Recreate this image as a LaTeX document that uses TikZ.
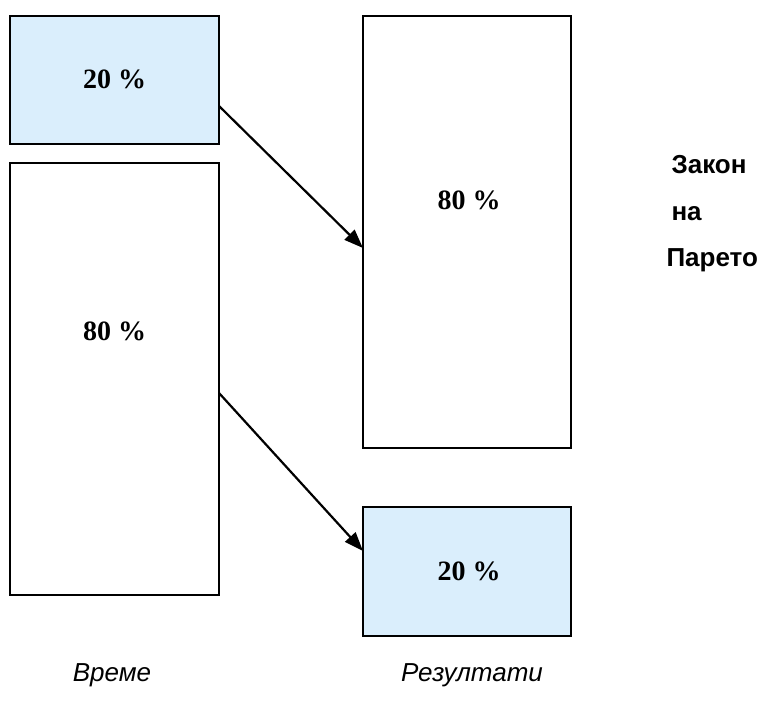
\documentclass[tikz,border=0pt]{standalone}
\usepackage{fontspec}
\setmainfont{Liberation Serif}
\setsansfont{Liberation Sans}
\usetikzlibrary{arrows.meta,calc}
\definecolor{boxblue}{RGB}{218,238,252}
\begin{document}
\begin{tikzpicture}[x=1pt,y=1pt,
  bar/.style={draw=black,line width=2.2pt},
  pct/.style={font=\fontsize{28}{32}\selectfont\bfseries},
  side/.style={font=\sffamily\bfseries\fontsize{26}{30}\selectfont,anchor=base west},
  axis/.style={font=\sffamily\itshape\fontsize{26}{30}\selectfont,anchor=base},
  conn/.style={line width=2.2pt,-{Triangle[length=19pt,width=14pt]}}]
\useasboundingbox (0,0) rectangle (774,713);
% boxes
\draw[bar,fill=boxblue] (10,569) rectangle (219,697);
\draw[bar] (10,118) rectangle (219,550);
\draw[bar] (363,265) rectangle (571,697);
\draw[bar,fill=boxblue] (363,77) rectangle (571,206);
\node[pct] (t1) at (114.5,634) {20 \%};
\node[pct] (t2) at (114.5,382) {80 \%};
\node[pct] (t3) at (469,513) {80 \%};
\node[pct] (t4) at (469,142) {20 \%};
% connectors
\coordinate (a1s) at (219,607);
\coordinate (a1e) at (363,465);
\coordinate (a2s) at (219,320);
\coordinate (a2e) at (363,162);
\draw[conn] (a1s) -- (a1e);
\draw[conn] (a2s) -- (a2e);
% labels
\node[side] (z) at (668,539) {Закон};
\node[side] (n) at (668,492) {на};
\node[side] (p) at (663,446) {Парето};
\node[axis] (v) at (112,32) {Време};
\node[axis] (r) at (472,32) {Резултати};
\end{tikzpicture}
\end{document}
